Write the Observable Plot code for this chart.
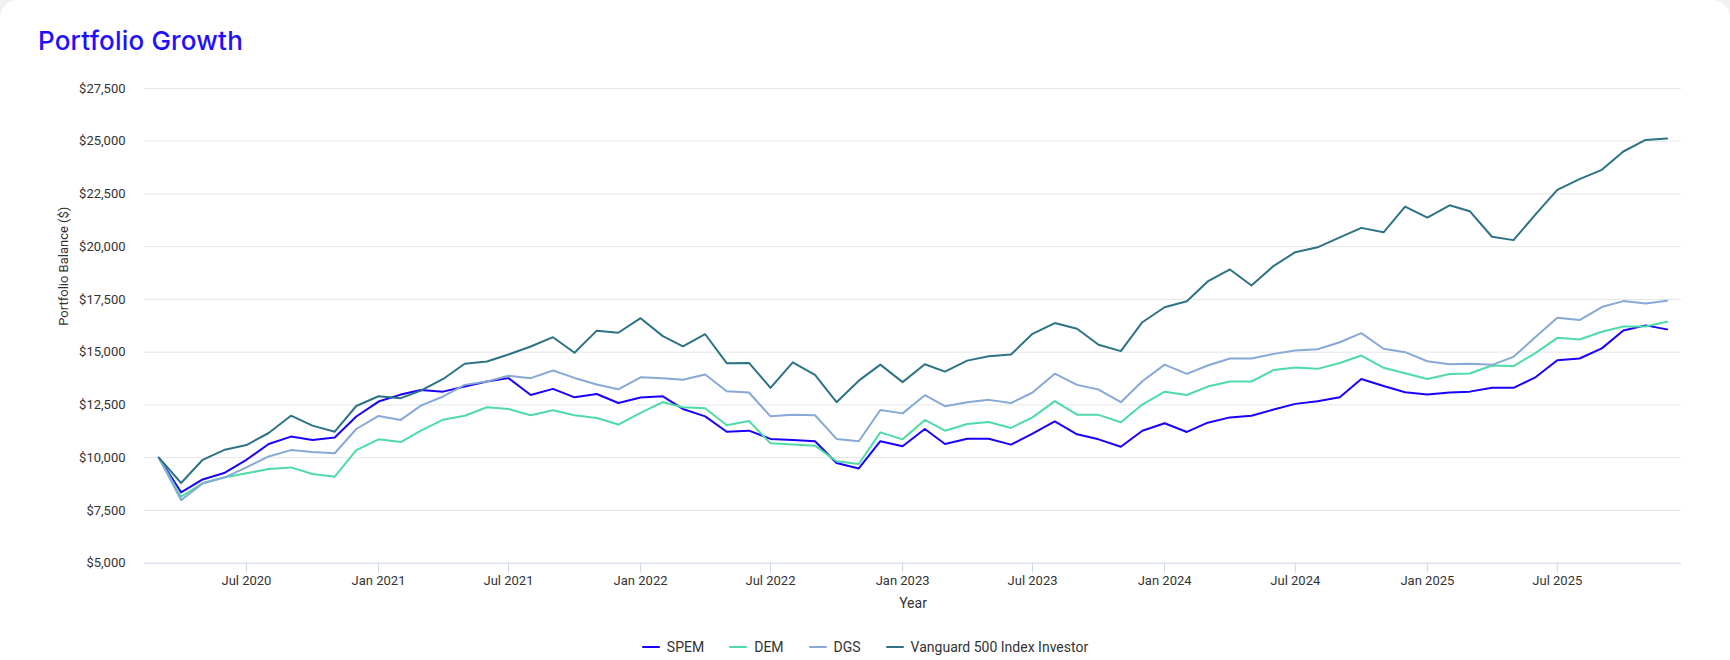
<!DOCTYPE html>
<html>
<head>
<meta charset="utf-8">
<script src="https://cdn.jsdelivr.net/npm/d3@7"></script>
<script src="https://cdn.jsdelivr.net/npm/@observablehq/plot@0.6"></script>
<style>
  html, body { margin: 0; padding: 0; overflow: hidden; background: #f1f1f1; }
  #card { width: 1730px; height: 660px; background: #fff; border-radius: 18px 18px 0 0; overflow: hidden; }
  #title { height: 32px; padding: 28px 0 0 38px; font: 500 26px/25px Inter, sans-serif; color: #1f0fff; letter-spacing: 0.2px; }
  #chart svg { display: block; }
  #legend { height: 26px; padding-top: 14px; display: flex; justify-content: center; gap: 25px;
            font: 14px/17px Roboto, sans-serif; color: #333; }
  .item { display: inline-flex; align-items: center; }
  .sym { width: 18px; height: 2px; margin-right: 7px; border-radius: 1px; }
</style>
</head>
<body>
<div id="card">
  <div id="title">Portfolio Growth</div>
  <div id="chart"></div>
  <div id="legend"></div>
</div>
<script>
const startMonth = "2020-03-01";
const endMonth = "2025-12-01";
const seriesNames = ["SPEM", "DEM", "DGS", "Vanguard 500 Index Investor"];
const seriesColors = ["#1a00ff", "#4edba6", "#87a9d5", "#2d7385"];

const spem = [
  10000, 8360, 8970, 9290, 9900, 10650, 11000, 10840, 10960, 11950,
  12660, 12990, 13210, 13130, 13370, 13610, 13770, 12970, 13260, 12860, 13020, 12590,
  12850, 12910, 12310, 11960, 11230, 11280, 10890, 10840, 10780, 9750, 9490, 10780,
  10540, 11360, 10650, 10900, 10900, 10620, 11140, 11720, 11110, 10870, 10520, 11280,
  11630, 11220, 11660, 11910, 11990, 12280, 12550, 12670, 12860, 13730, 13400, 13100,
  12990, 13090, 13130, 13310, 13310, 13820, 14620, 14700, 15180, 16030, 16270, 16080
];
const dem = [
  10000, 8150, 8800, 9070, 9260, 9460, 9540, 9230, 9100, 10360,
  10870, 10740, 11280, 11800, 11990, 12390, 12310, 12010, 12250, 12010, 11880, 11570,
  12120, 12630, 12390, 12340, 11540, 11740, 10680, 10620, 10570, 9830, 9700, 11200,
  10870, 11790, 11280, 11600, 11690, 11410, 11910, 12680, 12040, 12030, 11680, 12520,
  13130, 12970, 13370, 13610, 13610, 14160, 14270, 14210, 14490, 14840, 14260, 14000,
  13730, 13970, 13990, 14370, 14340, 14970, 15680, 15600, 15970, 16220, 16220, 16440
];
const dgs = [
  10000, 7990, 8780, 9070, 9540, 10060, 10360, 10270, 10210, 11360,
  11980, 11790, 12470, 12900, 13450, 13610, 13880, 13770, 14130, 13780, 13470, 13240,
  13810, 13770, 13690, 13940, 13150, 13090, 11960, 12040, 12010, 10890, 10780, 12260,
  12100, 12960, 12440, 12630, 12740, 12590, 13090, 13980, 13450, 13230, 12630, 13620,
  14410, 13970, 14370, 14700, 14700, 14920, 15080, 15140, 15470, 15900, 15160, 15000,
  14570, 14430, 14450, 14400, 14780, 15730, 16630, 16520, 17140, 17420, 17310, 17440
];
const vanguard = [
  10000, 8800, 9900, 10380, 10600, 11170, 11990, 11520, 11230, 12450,
  12910, 12820, 13180, 13730, 14450, 14560, 14890, 15270, 15710, 14970, 16020, 15920,
  16610, 15760, 15280, 15850, 14480, 14490, 13310, 14520, 13920, 12630, 13650, 14410,
  13580, 14430, 14080, 14600, 14810, 14890, 15870, 16380, 16110, 15350, 15050, 16420,
  17130, 17410, 18350, 18920, 18160, 19090, 19740, 19970, 20440, 20890, 20680, 21900,
  21380, 21960, 21680, 20470, 20310, 21540, 22690, 23200, 23640, 24510, 25060, 25130
];
const xTickLabels = ["2020-07-01", "2021-01-01", "2021-07-01", "2022-01-01", "2022-07-01", "2023-01-01",
                     "2023-07-01", "2024-01-01", "2024-07-01", "2025-01-01", "2025-07-01"];
const yTickValues = [5000, 7500, 10000, 12500, 15000, 17500, 20000, 22500, 25000, 27500];

const months = d3.utcMonth.range(new Date(startMonth), d3.utcDay.offset(new Date(endMonth), 1));
const allSeries = [spem, dem, dgs, vanguard];
const rows = [];
allSeries.forEach((vals, s) => vals.forEach((v, i) => rows.push({date: months[i], value: v, series: seriesNames[s]})));

const xTicks = xTickLabels.map(d => new Date(d));
const fmtMoney = d => "$" + d3.format(",")(d);

const chart = Plot.plot({
  width: 1730,
  height: 560,
  marginLeft: 144,
  marginRight: 49,
  marginTop: 27.9,
  marginBottom: 57.3,
  style: {fontFamily: "Roboto, sans-serif", fontSize: "13px", color: "#333", background: "transparent", overflow: "visible"},
  x: {type: "utc", domain: [new Date("2020-02-10"), new Date("2025-12-21")]},
  y: {domain: [5000, 27500]},
  color: {domain: seriesNames, range: seriesColors},
  marks: [
    Plot.gridY(yTickValues.filter(d => d !== 5000), {stroke: "#e6e6e6", strokeOpacity: 1}),
    Plot.ruleY([5000], {stroke: "#ccd6eb", strokeOpacity: 1}),
    Plot.axisY({ticks: yTickValues, tickFormat: fmtMoney, tickSize: 0, tickPadding: 19, label: null, fill: "#333"}),
    Plot.axisX({ticks: xTicks, tickFormat: d3.utcFormat("%b %Y"), tickSize: 10, tickPadding: 3, stroke: "#ccd6eb", strokeOpacity: 1, fill: "#333", label: null}),
    Plot.text(["Portfolio Balance ($)"], {text: d => d, frameAnchor: "left", dx: -81, rotate: -90, fill: "#333", fontSize: 13}),
    Plot.text(["Year"], {text: d => d, frameAnchor: "bottom", dy: 40.5, lineAnchor: "middle", fill: "#333", fontSize: 14}),
    Plot.lineY(rows, {x: "date", y: "value", z: "series", stroke: "series", strokeWidth: 2})
  ]
});
document.getElementById("chart").appendChild(chart);

const legend = document.getElementById("legend");
seriesNames.forEach((name, i) => {
  const item = document.createElement("span");
  item.className = "item";
  const sym = document.createElement("span");
  sym.className = "sym";
  sym.style.background = seriesColors[i];
  const label = document.createElement("span");
  label.textContent = name;
  item.appendChild(sym);
  item.appendChild(label);
  legend.appendChild(item);
});
</script>
</body>
</html>
